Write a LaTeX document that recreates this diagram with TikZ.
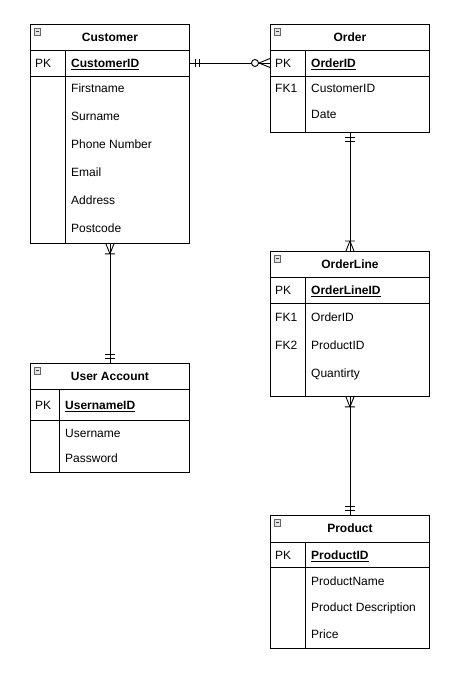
\documentclass[tikz,border=0pt]{standalone}
\usepackage{fontspec}
\setmainfont{Liberation Sans}
\usepackage{tikz}
\usetikzlibrary{positioning,calc}
\tikzset{
  tbl/.style={draw, rectangle, minimum width=159pt, inner sep=0pt, anchor=north west, line width=0.9pt},
  txt/.style={font=\fontsize{12}{14}\selectfont, inner sep=0pt, text height=8.6pt, text depth=0pt},
  ttl/.style={txt, font=\fontsize{12}{14}\selectfont\bfseries, anchor=center},
  key/.style={txt, anchor=west},
  fld/.style={txt, anchor=west},
  sep/.style={line width=0.9pt},
  rel/.style={line width=0.9pt},
  icon/.style={draw=black!60, fill=black!10, line width=0.6pt}
}
\begin{document}
\begin{tikzpicture}[x=1pt, y=1pt]
\useasboundingbox (0,0) rectangle (454,-680);
% tables
\node[tbl, minimum height=219pt] (customer) at (30,-24) {};
\node[tbl, minimum height=108pt] (order) at (270,-24) {};
\node[tbl, minimum height=145pt] (orderline) at (270,-251) {};
\node[tbl, minimum height=109pt] (useracc) at (30,-363) {};
\node[tbl, minimum height=133pt] (product) at (270,-515) {};
% header line, key line and column divider
\foreach \t/\h/\p/\d in {customer/26/52/35, order/26/52/35, orderline/26/52/35, useracc/26/57/29, product/27/52/35} {
  \draw[sep] ([yshift=-\h pt]\t.north west) -- ([yshift=-\h pt]\t.north east);
  \draw[sep] ([yshift=-\p pt]\t.north west) -- ([yshift=-\p pt]\t.north east);
  \draw[sep] ([xshift=\d pt, yshift=-\h pt]\t.north west) -- ([xshift=\d pt]\t.south west);
  \draw[icon] ([xshift=4pt, yshift=-4.5pt]\t.north west) rectangle ++(6.5,-6.5);
  \draw[black!75, line width=0.7pt] ([xshift=5.5pt, yshift=-7.75pt]\t.north west) -- ++(3.5,0);
}
% Customer
\node[ttl] at ([yshift=-13pt]customer.north) {Customer};
\node[key] at (35,-63) {PK};
\node[fld] (custid) at (71,-63) {\textbf{\underline{CustomerID}}};
\node[fld] at (71,-88) {Firstname};
\node[fld] at (71,-116) {Surname};
\node[fld] at (71,-144) {Phone Number};
\node[fld] at (71,-172) {Email};
\node[fld] at (71,-200) {Address};
\node[fld] at (71,-228) {Postcode};
% Order
\node[ttl] at ([yshift=-13pt]order.north) {Order};
\node[key] at (275,-63) {PK};
\node[fld] (ordid) at (311,-63) {\textbf{\underline{OrderID}}};
\node[key] at (275,-88) {FK1};
\node[fld] at (311,-88) {CustomerID};
\node[fld] at (311,-114) {Date};
% OrderLine
\node[ttl] at ([yshift=-13pt]orderline.north) {OrderLine};
\node[key] at (275,-290) {PK};
\node[fld] at (311,-290) {\textbf{\underline{OrderLineID}}};
\node[key] at (275,-317) {FK1};
\node[fld] at (311,-317) {OrderID};
\node[key] at (275,-345) {FK2};
\node[fld] at (311,-345) {ProductID};
\node[fld] at (311,-373) {Quantirty};
% User Account
\node[ttl] at ([yshift=-13pt]useracc.north) {User Account};
\node[key] at (35,-405) {PK};
\node[fld] at (65,-405) {\textbf{\underline{UsernameID}}};
\node[fld] at (65,-433) {Username};
\node[fld] at (65,-458) {Password};
% Product
\node[ttl] at ([yshift=-13pt]product.north) {Product};
\node[key] at (275,-555) {PK};
\node[fld] at (311,-555) {\textbf{\underline{ProductID}}};
\node[fld] at (311,-581) {ProductName};
\node[fld] at (311,-607) {Product Description};
\node[fld] at (311,-634) {Price};

% Customer -- Order: one and only one to zero or many
\coordinate (c1) at (customer.east |- custid);
\coordinate (c2) at (order.west |- ordid);
\draw[rel] (c1) -- (c2);
\draw[rel] ([xshift=6pt]c1) ++(0,4) -- ++(0,-8) ([xshift=10pt]c1) ++(0,4) -- ++(0,-8);
\draw[rel] ([xshift=-11pt]c2) -- ++(11,4.5) ([xshift=-11pt]c2) -- ++(11,-4.5);
\draw[rel, fill=white] ([xshift=-15pt]c2) circle (3.5);

% Customer -- User Account: one or many to one and only one
\draw[rel] (customer.south) -- (useracc.north);
\draw[rel] ([yshift=-10pt]customer.south) -- ++(-4,10) ([yshift=-10pt]customer.south) -- ++(4,10)
  ([yshift=-10pt]customer.south) ++(-5,0) -- ++(10,0);
\draw[rel] ([yshift=5pt]useracc.north) ++(-5,0) -- ++(10,0) ([yshift=9pt]useracc.north) ++(-5,0) -- ++(10,0);

% Order -- OrderLine
\draw[rel] (order.south) -- (orderline.north);
\draw[rel] ([yshift=-5pt]order.south) ++(-5,0) -- ++(10,0) ([yshift=-9pt]order.south) ++(-5,0) -- ++(10,0);
\draw[rel] ([yshift=10pt]orderline.north) -- ++(-4,-10) ([yshift=10pt]orderline.north) -- ++(4,-10)
  ([yshift=10pt]orderline.north) ++(-5,0) -- ++(10,0);

% OrderLine -- Product
\draw[rel] (orderline.south) -- (product.north);
\draw[rel] ([yshift=-10pt]orderline.south) -- ++(-4,10) ([yshift=-10pt]orderline.south) -- ++(4,10)
  ([yshift=-10pt]orderline.south) ++(-5,0) -- ++(10,0);
\draw[rel] ([yshift=5pt]product.north) ++(-5,0) -- ++(10,0) ([yshift=9pt]product.north) ++(-5,0) -- ++(10,0);
\end{tikzpicture}
\end{document}
